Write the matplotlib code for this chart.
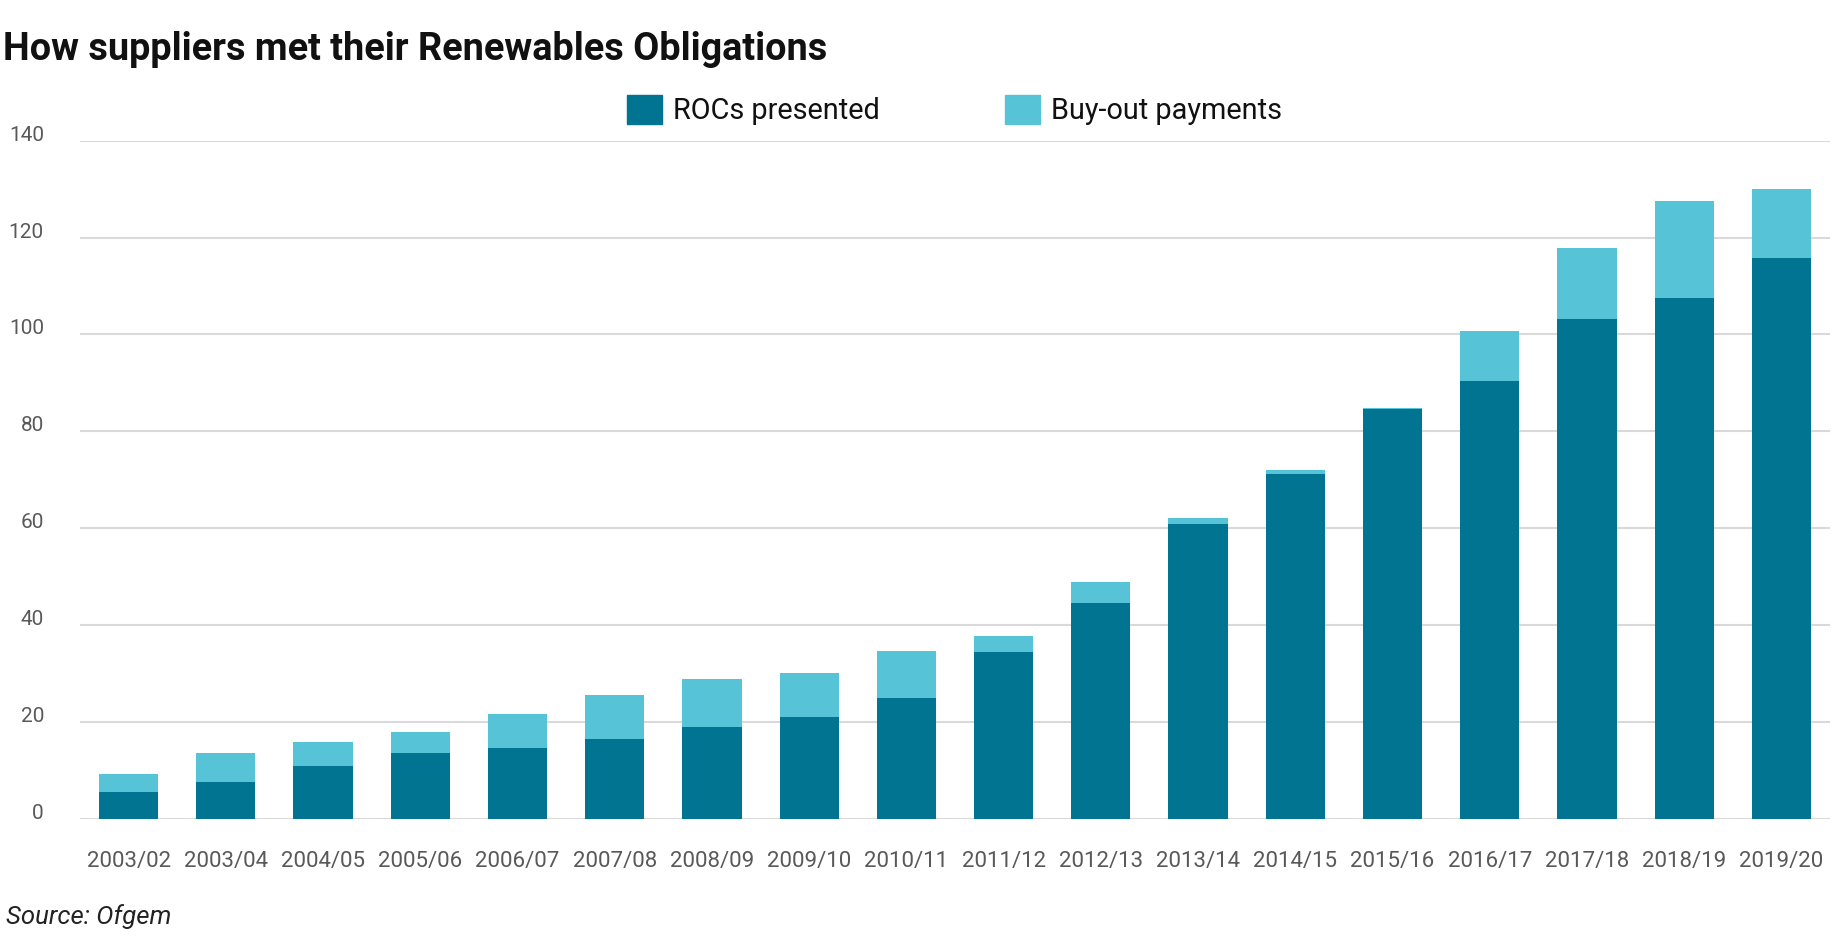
import numpy as np
import matplotlib
matplotlib.use('Agg')
import matplotlib.pyplot as plt
from matplotlib.patches import Patch

plt.rcParams['font.family'] = ['Roboto', 'DejaVu Sans']

# values
years = ['2003/02', '2003/04', '2004/05', '2005/06', '2006/07', '2007/08',
         '2008/09', '2009/10', '2010/11', '2011/12', '2012/13', '2013/14',
         '2014/15', '2015/16', '2016/17', '2017/18', '2018/19', '2019/20']
rocs = [5.5, 7.5, 10.9, 13.5, 14.6, 16.4, 18.9, 21.1, 24.9, 34.4, 44.6, 60.8,
        71.2, 84.5, 90.3, 103.2, 107.6, 115.8]
totals = [9.2, 13.5, 15.8, 17.9, 21.6, 25.5, 28.8, 30.0, 34.6, 37.7, 48.8, 62.0,
          71.9, 84.8, 100.8, 117.9, 127.6, 130.1]
buyout = [t - r for t, r in zip(totals, rocs)]
yticks = [0, 20, 40, 60, 80, 100, 120, 140]

dark = '#007491'
light = '#56c4d6'
grid_col = '#d9d9d9'

W, H = 1840, 951
fig = plt.figure(figsize=(W / 100, H / 100), dpi=100)
ax = fig.add_axes([80 / W, 1 - 818.7 / H, (1830 - 80) / W, (818.7 - 140.7) / H])

x = np.arange(len(years))
ax.bar(x, rocs, width=0.61, color=dark, zorder=3)
ax.bar(x, buyout, bottom=rocs, width=0.61, color=light, zorder=3)

ax.set_xlim(-0.5, len(years) - 0.5)
ax.set_ylim(0, 140)
ax.set_yticks(yticks)
ax.set_xticks(x)
ax.set_xticklabels(years)
ax.yaxis.grid(True, color=grid_col, linewidth=1.5, zorder=0)
ax.set_axisbelow(True)
for s in ax.spines.values():
    s.set_visible(False)
ax.tick_params(axis='y', length=0, pad=26, labelsize=15, labelcolor='#595959')
ax.tick_params(axis='x', length=0, pad=23, labelsize=16, labelcolor='#595959')
for lab in ax.get_yticklabels():
    lab.set_va('baseline')

fig.text(3 / W, 1 - 60.5 / H, 'How suppliers met their Renewables Obligations',
         fontsize=27.3, fontweight='bold', color='#111111', va='baseline')

handles = [Patch(color=dark, label='ROCs presented'),
           Patch(color=light, label='Buy-out payments')]
fig.legend(handles=handles, loc='center left', bbox_to_anchor=(627 / W, 1 - 110 / H),
           ncol=2, frameon=False, fontsize=20.8, handlelength=1.21, handleheight=1.21,
           handletextpad=0.38, columnspacing=4.35, borderpad=0, borderaxespad=0,
           labelcolor='#111111')

fig.text(6 / W, 1 - 924 / H, 'Source: Ofgem', fontsize=18.5, fontstyle='italic',
         color='#222222', va='baseline')

fig.savefig('out.png', dpi=100)
